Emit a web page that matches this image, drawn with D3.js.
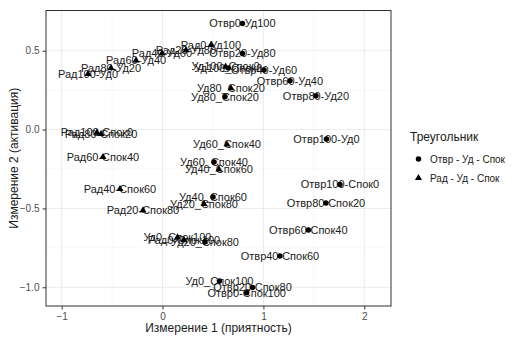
<!DOCTYPE html>
<html>
<head>
<meta charset="utf-8">
<script src="https://cdn.jsdelivr.net/npm/d3@7"></script>
<style>
  body { margin: 0; background: #fff; }
  svg { font-family: "Liberation Sans", Arial, sans-serif; }
</style>
</head>
<body>
<svg id="chart" width="513" height="339"></svg>
<script>
// Отвр - Уд - Спок (circles)
const circleLabels = ['Отвр0-Уд100', 'Отвр20-Уд80', 'Отвр40-Уд60', 'Отвр60-Уд40', 'Отвр80-Уд20', 'Отвр100-Уд0',
  'Отвр100-Спок0', 'Отвр80-Спок20', 'Отвр60-Спок40', 'Отвр40-Спок60', 'Отвр20-Спок80', 'Отвр0-Спок100',
  'Уд100_Спок0', 'Уд80_Спок20', 'Уд60_Спок40', 'Уд40_Спок60', 'Уд20_Спок80', 'Уд0_Спок100'];
const circleX = [0.792, 0.792, 1.006, 1.263, 1.521, 1.625,
  1.759, 1.620, 1.445, 1.164, 0.892, 0.834,
  0.652, 0.619, 0.510, 0.500, 0.421, 0.564];
const circleY = [0.672, 0.482, 0.378, 0.310, 0.215, -0.060,
  -0.348, -0.466, -0.637, -0.802, -1.001, -1.034,
  0.391, 0.208, -0.206, -0.428, -0.713, -0.960];

// Рад - Уд - Спок (triangles)
const triLabels = ['Рад0-Уд100', 'Рад20-Уд80', 'Рад40-Уд60', 'Рад60-Уд40', 'Рад80-Уд20', 'Рад100-Уд0',
  'Рад100-Спок0', 'Рад80-Спок20', 'Рад60-Спок40', 'Рад40-Спок60', 'Рад20-Спок80', 'Рад0-Спок100',
  'Уд100_Спок0', 'Уд80_Спок20', 'Уд60_Спок40', 'Уд40_Спок60', 'Уд20_Спок80', 'Уд0_Спок100'];
const triX = [0.480, 0.232, -0.006, -0.263, -0.511, -0.739,
  -0.650, -0.610, -0.591, -0.422, -0.194, 0.212,
  0.625, 0.678, 0.639, 0.559, 0.411, 0.148];
const triY = [0.536, 0.504, 0.482, 0.438, 0.390, 0.352,
  -0.019, -0.028, -0.174, -0.377, -0.513, -0.700,
  0.399, 0.262, -0.095, -0.253, -0.472, -0.684];

const groupNames = ['Отвр - Уд - Спок', 'Рад - Уд - Спок'];
const xTicks = [-1, 0, 1, 2];
const yTicks = [-1.0, -0.5, 0.0, 0.5];
const xMinor = [-0.5, 0.5, 1.5];
const yMinor = [-0.75, -0.25, 0.25, 0.75];

const svg = d3.select('#chart');
const panel = {left: 46, right: 391, top: 10.5, bottom: 306};

const x = d3.scaleLinear().domain([-1.1556, 2.265]).range([panel.left, panel.right]);
const y = d3.scaleLinear().domain([-1.1186, 0.755]).range([panel.bottom, panel.top]);

const shapes = [d3.symbolCircle, d3.symbolTriangle];

// build the point table
const points = [];
circleLabels.forEach((l, i) => points.push({label: l, x: circleX[i], y: circleY[i], g: 0}));
triLabels.forEach((l, i) => points.push({label: l, x: triX[i], y: triY[i], g: 1}));

// grid
const grid = svg.append('g');
grid.selectAll('.xminor').data(xMinor.filter(d => x(d) > panel.left && x(d) < panel.right)).join('line')
  .attr('x1', d => x(d)).attr('x2', d => x(d))
  .attr('y1', panel.top).attr('y2', panel.bottom)
  .attr('stroke', '#f2f2f2').attr('stroke-width', 0.6);
grid.selectAll('.yminor').data(yMinor.filter(d => y(d) > panel.top && y(d) < panel.bottom)).join('line')
  .attr('x1', panel.left).attr('x2', panel.right)
  .attr('y1', d => y(d)).attr('y2', d => y(d))
  .attr('stroke', '#f2f2f2').attr('stroke-width', 0.6);
grid.selectAll('.xmajor').data(xTicks).join('line')
  .attr('x1', d => x(d)).attr('x2', d => x(d))
  .attr('y1', panel.top).attr('y2', panel.bottom)
  .attr('stroke', '#ebebeb').attr('stroke-width', 1);
grid.selectAll('.ymajor').data(yTicks).join('line')
  .attr('x1', panel.left).attr('x2', panel.right)
  .attr('y1', d => y(d)).attr('y2', d => y(d))
  .attr('stroke', '#ebebeb').attr('stroke-width', 1);

// axes
const xAxis = svg.append('g')
  .attr('transform', 'translate(0,' + panel.bottom + ')')
  .call(d3.axisBottom(x).tickValues(xTicks).tickFormat(d3.format('d')).tickSize(3.5).tickPadding(3));
const yAxis = svg.append('g')
  .attr('transform', 'translate(' + panel.left + ',0)')
  .call(d3.axisLeft(y).tickValues(yTicks).tickFormat(d3.format('.1f')).tickSize(3.5).tickPadding(3));
[xAxis, yAxis].forEach(a => {
  a.select('.domain').remove();
  a.selectAll('line').attr('stroke', '#333333');
  a.selectAll('text').attr('fill', '#4d4d4d').style('font-size', '10px')
    .style('font-family', '"Liberation Sans", Arial, sans-serif');
});

// labels
svg.append('g').selectAll('text').data(points).join('text')
  .attr('x', d => x(d.x))
  .attr('y', d => y(d.y))
  .attr('dy', '0.35em')
  .attr('text-anchor', 'middle')
  .style('font-size', '11px')
  .attr('fill', '#1a1a1a')
  .text(d => d.label);

// points
svg.append('g').selectAll('path').data(points).join('path')
  .attr('transform', d => 'translate(' + x(d.x) + ',' + y(d.y) + ')')
  .attr('d', d => d3.symbol().type(shapes[d.g]).size(d.g === 0 ? 24 : 22)())
  .attr('fill', '#000');

// panel border
svg.append('rect')
  .attr('x', panel.left).attr('y', panel.top)
  .attr('width', panel.right - panel.left).attr('height', panel.bottom - panel.top)
  .attr('fill', 'none').attr('stroke', '#333333').attr('stroke-width', 1);

// axis titles
svg.append('text')
  .attr('x', (panel.left + panel.right) / 2).attr('y', 332)
  .attr('text-anchor', 'middle')
  .style('font-size', '12px').attr('fill', '#1a1a1a')
  .text('Измерение 1 (приятность)');
svg.append('text')
  .attr('transform', 'translate(18,' + (panel.top + panel.bottom) / 2 + ') rotate(-90)')
  .attr('text-anchor', 'middle')
  .style('font-size', '12px').attr('fill', '#1a1a1a')
  .text('Измерение 2 (активация)');

// legend
const legend = svg.append('g').attr('transform', 'translate(410,0)');
legend.append('text')
  .attr('x', 0).attr('y', 141)
  .style('font-size', '12px').attr('fill', '#1a1a1a')
  .text('Треугольник');
const item = legend.selectAll('.item').data(groupNames).join('g')
  .attr('transform', (d, i) => 'translate(0,' + (159 + i * 19) + ')');
item.append('path')
  .attr('transform', 'translate(8.5,0)')
  .attr('d', (d, i) => d3.symbol().type(shapes[i]).size(i === 0 ? 24 : 22)())
  .attr('fill', '#000');
item.append('text')
  .attr('x', 20).attr('dy', '0.35em')
  .style('font-size', '10px').attr('fill', '#1a1a1a')
  .text(d => d);
</script>
</body>
</html>
